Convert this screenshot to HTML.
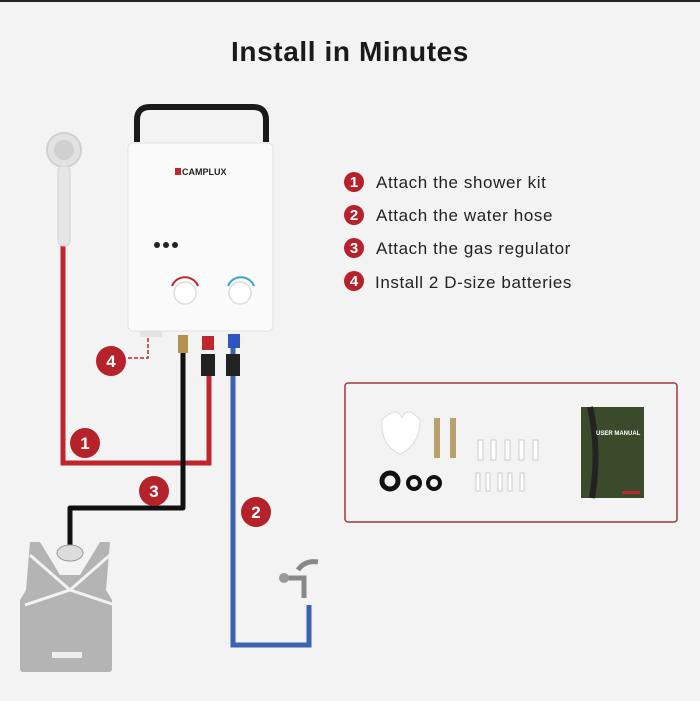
<!DOCTYPE html><html><head><style>
body{margin:0;width:700px;height:701px;background:#f3f3f4;overflow:hidden;font-family:"Liberation Sans",sans-serif}
svg{position:absolute;left:0;top:0}
</style></head><body>
<svg width="700" height="701" viewBox="0 0 700 701">
<rect width="700" height="701" fill="#f3f3f4"/>
<rect x="0" y="0" width="700" height="2" fill="#222"/>
<text x="350" y="61" text-anchor="middle" font-size="28" font-weight="bold" letter-spacing="0.6" fill="#1a1a1a" font-family="Liberation Sans">Install in Minutes</text>
<!-- pipes -->
<path d="M63 152 V463 H209 V372" fill="none" stroke="#c0262c" stroke-width="5"/>
<path d="M183 340 V508 H70 V545" fill="none" stroke="#111" stroke-width="5" stroke-linejoin="round"/>
<path d="M233 340 V645 H309 V605" fill="none" stroke="#3b62b5" stroke-width="5"/>
<path d="M148 338 V358 H128" fill="none" stroke="#c0262c" stroke-width="1.5" stroke-dasharray="4,2"/>
<!-- shower -->
<circle cx="64" cy="150" r="17" fill="#e2e2e2" stroke="#d0d0d0" stroke-width="2"/>
<circle cx="64" cy="150" r="10" fill="#d0d0d0"/>
<rect x="58" y="166" width="12" height="80" rx="5" fill="#e6e6e6" stroke="#d4d4d4"/>
<!-- handle -->
<path d="M137 142 V120 Q137 107 150 107 H253 Q266 107 266 120 V142" fill="none" stroke="#1a1a1a" stroke-width="6"/>
<!-- heater -->
<rect x="128" y="143" width="145" height="188" rx="5" fill="#fbfbfb" stroke="#e2e2e2"/>
<rect x="175" y="168" width="6" height="7" fill="#c0262c"/>
<text x="182" y="175" font-size="9" font-weight="bold" fill="#222">CAMPLUX</text>
<circle cx="157" cy="245" r="3" fill="#222"/><circle cx="166" cy="245" r="3" fill="#222"/><circle cx="175" cy="245" r="3" fill="#222"/>
<path d="M172 286 A14 14 0 0 1 198 286" fill="none" stroke="#c0262c" stroke-width="2"/>
<path d="M228 286 A14 14 0 0 1 254 286" fill="none" stroke="#35a5c8" stroke-width="2"/>
<circle cx="185" cy="293" r="11" fill="#fff" stroke="#ddd" stroke-width="1.5"/>
<circle cx="240" cy="293" r="11" fill="#fff" stroke="#ddd" stroke-width="1.5"/>
<rect x="140" y="331" width="22" height="6" fill="#e4e4e4"/>
<!-- fittings -->
<rect x="178" y="335" width="10" height="18" fill="#b49350"/>
<rect x="202" y="336" width="12" height="14" fill="#c0262c"/>
<rect x="201" y="354" width="14" height="22" fill="#222"/>
<rect x="228" y="334" width="12" height="14" fill="#2e56c0"/>
<rect x="226" y="354" width="14" height="22" fill="#222"/>
<!-- circles -->
<g font-size="17" font-weight="bold" fill="#fff" text-anchor="middle">
<circle cx="111" cy="361" r="15" fill="#b5222a"/><text x="111" y="367">4</text>
<circle cx="85" cy="443" r="15" fill="#b5222a"/><text x="85" y="449">1</text>
<circle cx="154" cy="491" r="15" fill="#b5222a"/><text x="154" y="497">3</text>
<circle cx="256" cy="512" r="15" fill="#b5222a"/><text x="256" y="518">2</text>
</g>
<!-- gas cylinder -->
<path d="M30 542 L40 542 L60 575 L80 575 L100 542 L110 542 L106 590 L112 600 V670 L110 672 H22 L20 670 V600 L26 590 Z" fill="#b4b4b4"/>
<path d="M30 555 L70 590 L110 555 M25 605 L70 590 L115 605" fill="none" stroke="#f3f3f4" stroke-width="3"/>
<rect x="52" y="652" width="30" height="6" fill="#eee"/>
<ellipse cx="70" cy="553" rx="13" ry="8" fill="#ddd" stroke="#999"/>
<!-- tap -->
<path d="M288 578 H304 V598 M298 570 Q305 560 318 562" fill="none" stroke="#888" stroke-width="5"/>
<circle cx="284" cy="578" r="5" fill="#999"/>
<!-- steps -->
<g font-size="15" font-weight="bold" fill="#fff" text-anchor="middle">
<circle cx="354" cy="182" r="10" fill="#b5222a"/><text x="354" y="187">1</text>
<circle cx="354" cy="215" r="10" fill="#b5222a"/><text x="354" y="220">2</text>
<circle cx="354" cy="248" r="10" fill="#b5222a"/><text x="354" y="253">3</text>
<circle cx="354" cy="281" r="10" fill="#b5222a"/><text x="354" y="286">4</text>
</g>
<g font-size="17" letter-spacing="0.6" fill="#222">
<text x="376" y="188">Attach the shower kit</text>
<text x="376" y="221">Attach the water hose</text>
<text x="376" y="254">Attach the gas regulator</text>
<text x="375" y="288">Install 2 D-size batteries</text>
</g>
<!-- accessories box -->
<rect x="345" y="383" width="332" height="139" rx="3" fill="#f3f3f4" stroke="#9b3a40" stroke-width="1.5"/>
<path d="M382 420 Q397 405 402 418 Q407 405 420 420 Q420 445 400 454 Q380 445 382 420Z" fill="#fff" stroke="#ddd"/>
<rect x="434" y="418" width="6" height="40" fill="#b8a26a"/><rect x="450" y="418" width="6" height="40" fill="#b8a26a"/>
<g fill="#fff" stroke="#ccc">
<rect x="478" y="440" width="5" height="20"/><rect x="491" y="440" width="5" height="20"/><rect x="505" y="440" width="5" height="20"/><rect x="519" y="440" width="5" height="20"/><rect x="533" y="440" width="5" height="20"/>
<rect x="476" y="473" width="4" height="18"/><rect x="486" y="473" width="4" height="18"/><rect x="498" y="473" width="4" height="18"/><rect x="508" y="473" width="4" height="18"/><rect x="520" y="473" width="4" height="18"/>
</g>
<circle cx="390" cy="481" r="8" fill="none" stroke="#111" stroke-width="5"/>
<circle cx="414" cy="483" r="6" fill="none" stroke="#111" stroke-width="4"/>
<circle cx="434" cy="483" r="6" fill="none" stroke="#111" stroke-width="4"/>
<rect x="581" y="407" width="63" height="91" fill="#3a4a2a"/>
<path d="M590 407 Q600 450 592 498" stroke="#222" stroke-width="6" fill="none"/>
<text x="596" y="435" font-size="6" font-weight="bold" fill="#fff">USER MANUAL</text>
<rect x="622" y="491" width="18" height="3" fill="#c0262c"/>
</svg>
</body></html>
